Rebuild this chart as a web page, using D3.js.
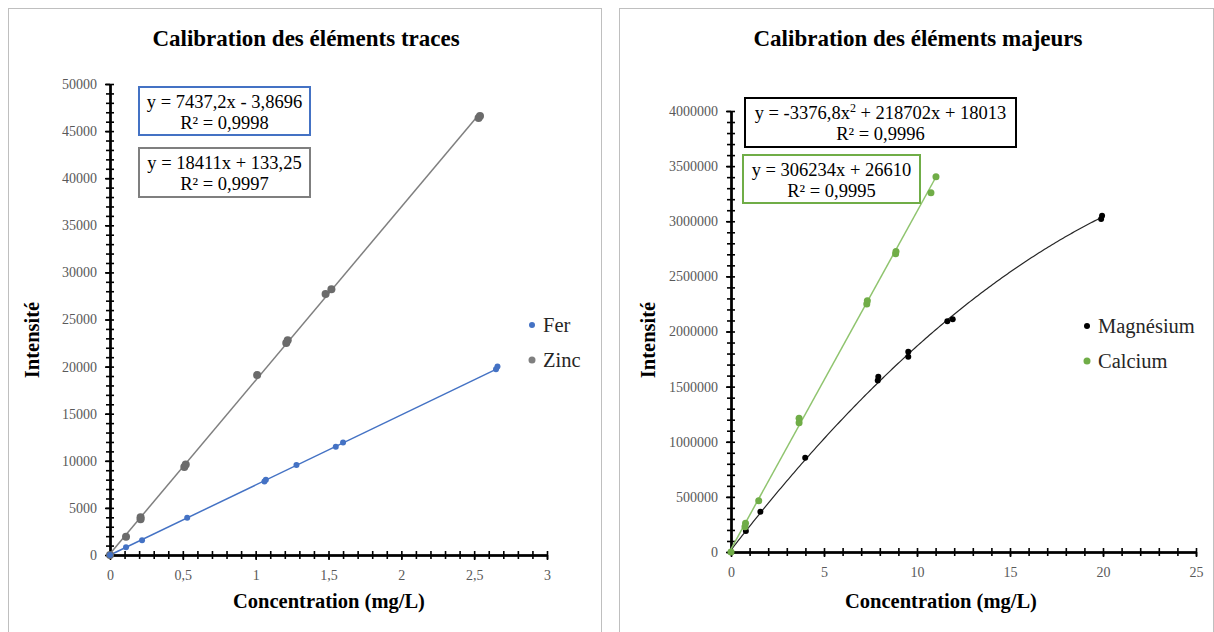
<!DOCTYPE html>
<html><head><meta charset="utf-8">
<script src="https://cdn.jsdelivr.net/npm/d3@7"></script>
<style>body{margin:0;background:#fff}svg{display:block}text{font-family:"Liberation Serif","Times New Roman",serif}</style>
</head><body><svg id="c" width="1214" height="632"></svg>
<script>
// ---- Data: traces ----
const ferX  = [0, 0.11, 0.22, 0.53, 1.06, 1.07, 1.28, 1.55, 1.60, 2.65, 2.66];
const ferY  = [0, 820, 1560, 3960, 7800, 8000, 9560, 11500, 11930, 19720, 20000];
const zincX = [0, 0.11, 0.21, 0.21, 0.51, 0.52, 1.01, 1.21, 1.22, 1.48, 1.52, 2.53, 2.54];
const zincY = [0, 1950, 3800, 4000, 9350, 9600, 19100, 22500, 22800, 27700, 28200, 46400, 46600];
const ferFit  = [7437.2, -3.8696];   // slope, intercept
const zincFit = [18411, 133.25];
const tracesXTicks = [0, 0.5, 1, 1.5, 2, 2.5, 3];
const tracesYTicks = [0,5000,10000,15000,20000,25000,30000,35000,40000,45000,50000];
// ---- Data: majeurs ----
const mgX = [0, 0.8, 1.58, 3.99, 7.89, 7.92, 9.53, 9.53, 11.63, 11.92, 19.9, 19.95];
const mgY = [0, 190000, 365000, 855000, 1555000, 1590000, 1772000, 1817000, 2092000, 2110000, 3020000, 3050000];
const caX = [0, 0.75, 0.78, 1.49, 3.66, 3.66, 7.30, 7.33, 8.85, 8.87, 10.75, 11.02];
const caY = [0, 230000, 260000, 465000, 1173000, 1213000, 2250000, 2280000, 2705000, 2725000, 3259000, 3404000];
const mgFit = [-3376.8, 218702, 18013]; // a, b, c
const caFit = [306234, 26610];
const majXTicks = [0, 5, 10, 15, 20, 25];
const majYTicks = [0,500000,1000000,1500000,2000000,2500000,3000000,3500000,4000000];

const loc = d3.formatLocale({decimal: ",", thousands: "", grouping: [3], currency: ["", ""]});
const fmt = loc.format("~g");
const fmtInt = loc.format("d");

const svg = d3.select("#c");
svg.append("rect").attr("width",1214).attr("height",632).attr("fill","#fff");

function panel(x0, y0, w, h) {
  svg.append("rect").attr("x", x0+0.5).attr("y", y0+0.5).attr("width", w).attr("height", h)
    .attr("fill", "#fff").attr("stroke", "#bfbfbf").attr("stroke-width", 1);
}

function axes(x, y, xMaj, xMinStep, yMaj, yMinStep, xFmt, yFmt) {
  const [x0, x1] = x.domain(), [y0, y1] = y.domain();
  const xMin = d3.range(Math.round((x1 - x0) / xMinStep) + 1).map(i => x0 + i * xMinStep);
  const yMin = d3.range(Math.round((y1 - y0) / yMinStep) + 1).map(i => y0 + i * yMinStep);
  const yb = y.range()[0], xl = x.range()[0];
  const style = g => {
    g.selectAll("path.domain").attr("stroke", "#000").attr("stroke-width", 2);
    g.selectAll(".tick line").attr("stroke", "#000").attr("stroke-width", 1.6);
    g.selectAll(".tick text").attr("font-family", "Liberation Serif, serif").attr("font-size", 14).attr("fill", "#595959");
  };
  svg.append("g").attr("transform", `translate(0,${yb})`).call(d3.axisBottom(x).tickValues(xMin).tickSize(4).tickFormat("").tickSizeOuter(0)).call(style);
  svg.append("g").attr("transform", `translate(0,${yb})`).call(d3.axisTop(x).tickValues(xMin).tickSize(4).tickFormat("").tickSizeOuter(0)).call(style);
  svg.append("g").attr("transform", `translate(${xl},0)`).call(d3.axisLeft(y).tickValues(yMin).tickSize(4).tickFormat("").tickSizeOuter(0)).call(style);
  svg.append("g").attr("transform", `translate(${xl},0)`).call(d3.axisRight(y).tickValues(yMin).tickSize(4).tickFormat("").tickSizeOuter(0)).call(style);
  svg.append("g").attr("transform", `translate(0,${yb})`).call(d3.axisBottom(x).tickValues(xMaj).tickSize(5).tickPadding(10).tickFormat(xFmt).tickSizeOuter(0)).call(style);
  svg.append("g").attr("transform", `translate(${xl},0)`).call(d3.axisLeft(y).tickValues(yMaj).tickSize(5).tickPadding(8).tickFormat(yFmt).tickSizeOuter(0)).call(style);
}

function titles(cx, title, xlabel, ylabelX, ylabelY, xlabelY) {
  svg.append("text").attr("x", cx).attr("y", 46).attr("text-anchor", "middle")
    .attr("font-size", 23).attr("font-weight", "bold").attr("fill", "#000").text(title);
  svg.append("text").attr("x", cx + 23).attr("y", xlabelY).attr("text-anchor", "middle")
    .attr("font-size", 20.5).attr("font-weight", "bold").attr("fill", "#000").text(xlabel);
  svg.append("text").attr("transform", `translate(${ylabelX},${ylabelY}) rotate(-90)`).attr("text-anchor", "middle")
    .attr("font-size", 20.5).attr("font-weight", "bold").attr("fill", "#000").text("Intensité");
}

function eqBox(x0, y0, w, h, color, line1, line2) {
  svg.append("rect").attr("x", x0).attr("y", y0).attr("width", w).attr("height", h)
    .attr("fill", "#fff").attr("stroke", color).attr("stroke-width", 2);
  const t1 = svg.append("text").attr("x", x0 + w / 2).attr("y", y0 + 21).attr("text-anchor", "middle")
    .attr("font-size", 18.5).attr("fill", "#000");
  line1(t1);
  svg.append("text").attr("x", x0 + w / 2).attr("y", y0 + 42).attr("text-anchor", "middle")
    .attr("font-size", 18.5).attr("fill", "#000").text(line2);
}

function legend(x, y, color, r, label) {
  svg.append("circle").attr("cx", x).attr("cy", y).attr("r", r).attr("fill", color);
  svg.append("text").attr("x", x + 11).attr("y", y + 7).attr("font-size", 20.5).attr("fill", "#262626").text(label);
}

// ================= LEFT: traces =================
panel(8, 8, 593, 660);
const xL = d3.scaleLinear().domain([0, 3]).range([110, 547]);
const yL = d3.scaleLinear().domain([0, 50000]).range([555, 84]);
axes(xL, yL, tracesXTicks, 0.1, tracesYTicks, 1000, fmt, fmtInt);
titles(306, "Calibration des éléments traces", "Concentration (mg/L)", 39, 340, 608);

const lineL = d3.line().x(d => xL(d[0])).y(d => yL(d[1]));
svg.append("path").attr("d", lineL([[0, ferFit[1]], [d3.max(ferX), ferFit[0] * d3.max(ferX) + ferFit[1]]]))
  .attr("stroke", "#4472C4").attr("stroke-width", 1.5).attr("fill", "none");
svg.append("path").attr("d", lineL([[0, zincFit[1]], [d3.max(zincX), zincFit[0] * d3.max(zincX) + zincFit[1]]]))
  .attr("stroke", "#7f7f7f").attr("stroke-width", 1.5).attr("fill", "none");
svg.append("g").selectAll("circle").data(zincX.map((v, i) => [v, zincY[i]])).join("circle")
  .attr("cx", d => xL(d[0])).attr("cy", d => yL(d[1])).attr("r", 4).attr("fill", "#6b6b6b");
svg.append("g").selectAll("circle").data(ferX.map((v, i) => [v, ferY[i]])).join("circle")
  .attr("cx", d => xL(d[0])).attr("cy", d => yL(d[1])).attr("r", 3).attr("fill", "#4472C4");

eqBox(139, 87, 171, 48, "#4472C4", t => t.text("y = 7437,2x - 3,8696"), "R² = 0,9998");
eqBox(139, 148, 171, 49, "#7f7f7f", t => t.text("y = 18411x + 133,25"), "R² = 0,9997");
legend(532, 325, "#4472C4", 3, "Fer");
legend(532, 360, "#7f7f7f", 3.5, "Zinc");

// ================= RIGHT: majeurs =================
panel(619, 8, 594, 660);
const xR = d3.scaleLinear().domain([0, 25]).range([731, 1196]);
const yR = d3.scaleLinear().domain([0, 4000000]).range([552, 111]);
axes(xR, yR, majXTicks, 1, majYTicks, 100000, fmt, fmtInt);
titles(918, "Calibration des éléments majeurs", "Concentration (mg/L)", 655, 340, 608);

const lineR = d3.line().x(d => xR(d[0])).y(d => yR(d[1]));
const mgCurve = d3.range(0, 201).map(i => { const v = i / 200 * d3.max(mgX); return [v, mgFit[0] * v * v + mgFit[1] * v + mgFit[2]]; });
svg.append("path").attr("d", lineR(mgCurve)).attr("stroke", "#262626").attr("stroke-width", 1.2).attr("fill", "none");
svg.append("path").attr("d", lineR([[0, caFit[1]], [d3.max(caX), caFit[0] * d3.max(caX) + caFit[1]]]))
  .attr("stroke", "#8fc46e").attr("stroke-width", 1.5).attr("fill", "none");
svg.append("g").selectAll("circle").data(mgX.map((v, i) => [v, mgY[i]])).join("circle")
  .attr("cx", d => xR(d[0])).attr("cy", d => yR(d[1])).attr("r", 3).attr("fill", "#000");
svg.append("g").selectAll("circle").data(caX.map((v, i) => [v, caY[i]])).join("circle")
  .attr("cx", d => xR(d[0])).attr("cy", d => yR(d[1])).attr("r", 3.5).attr("fill", "#70AD47");

eqBox(745, 98, 271, 49, "#000", t => {
  t.append("tspan").text("y = -3376,8x");
  t.append("tspan").attr("font-size", 12).attr("dy", -7).text("2");
  t.append("tspan").attr("dy", 7).text(" + 218702x + 18013");
}, "R² = 0,9996");
eqBox(743, 155, 177, 48, "#70AD47", t => t.text("y = 306234x  + 26610"), "R² = 0,9995");
legend(1087, 326, "#000", 3, "Magnésium");
legend(1087, 361, "#70AD47", 3.5, "Calcium");
</script></body></html>
